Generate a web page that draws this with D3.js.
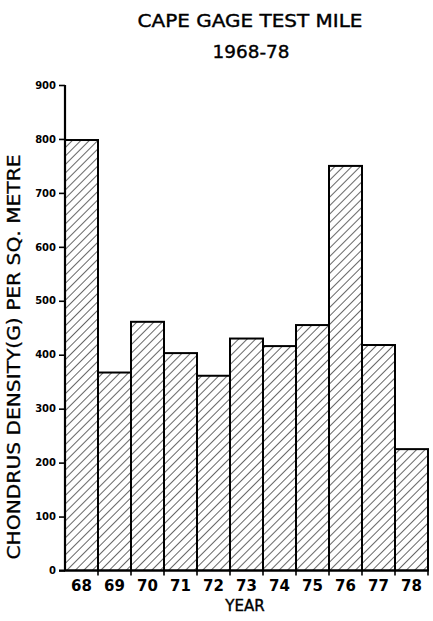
<!DOCTYPE html>
<html>
<head>
<meta charset="utf-8">
<script src="https://cdnjs.cloudflare.com/ajax/libs/d3/7.8.5/d3.min.js"></script>
<style>
  body { margin: 0; background: #fff; }
  text { font-family: "DejaVu Sans", "Liberation Sans", sans-serif; fill: #000; }
</style>
</head>
<body>
<div id="chart"></div>
<script>
// values
var years = ["68", "69", "70", "71", "72", "73", "74", "75", "76", "77", "78"];
var density = [798, 367, 461, 403, 361, 430, 416, 455, 750, 418, 225];
var yTicks = [0, 100, 200, 300, 400, 500, 600, 700, 800, 900];

var width = 433, height = 621;

var svg = d3.select("#chart").append("svg")
    .attr("width", width)
    .attr("height", height);

// diagonal hatch like the plotter fill
var defs = svg.append("defs");
defs.append("pattern")
    .attr("id", "hatch")
    .attr("patternUnits", "userSpaceOnUse")
    .attr("width", 6)
    .attr("height", 6)
    .attr("patternTransform", "rotate(45)")
    .append("line")
    .attr("x1", 0).attr("y1", 0)
    .attr("x2", 0).attr("y2", 6)
    .attr("stroke", "#000")
    .attr("stroke-width", 1.2);

var x = d3.scaleBand()
    .domain(years)
    .range([65, 428])
    .padding(0);

var y = d3.scaleLinear()
    .domain([0, 900])
    .range([570.5, 85]);

// bars
svg.append("g")
    .selectAll("rect")
    .data(years)
    .enter().append("rect")
    .attr("x", function(d) { return x(d); })
    .attr("y", function(d, i) { return y(density[i]); })
    .attr("width", x.bandwidth())
    .attr("height", function(d, i) { return y(0) - y(density[i]); })
    .attr("fill", "url(#hatch)")
    .attr("stroke", "#000")
    .attr("stroke-width", 2);

// y axis
var yAxis = d3.axisLeft(y)
    .tickValues(yTicks)
    .tickSize(6)
    .tickPadding(3)
    .tickFormat(d3.format("d"));

var gy = svg.append("g")
    .attr("transform", "translate(" + x.range()[0] + ",0)")
    .call(yAxis);
gy.select(".domain").attr("stroke-width", 2.2).attr("d", "M0," + y(900) + "V" + y(0));
gy.selectAll(".tick line").attr("stroke-width", 1.6);
gy.selectAll(".tick text")
    .style("font-size", "10px")
    .style("font-weight", "bold");

// x axis: ticks on the bar boundaries, labels in the middle
var gx = svg.append("g")
    .attr("transform", "translate(0," + y(0) + ")");
gx.append("line")
    .attr("x1", x.range()[0] - 6)
    .attr("x2", x.range()[1])
    .attr("stroke", "#000")
    .attr("stroke-width", 2);
gx.selectAll(".xtick")
    .data(years.slice(1).concat(["end"]))
    .enter().append("line")
    .attr("class", "xtick")
    .attr("x1", function(d, i) { return x.range()[0] + (i + 1) * x.bandwidth(); })
    .attr("x2", function(d, i) { return x.range()[0] + (i + 1) * x.bandwidth(); })
    .attr("y1", -5)
    .attr("y2", 5)
    .attr("stroke", "#000")
    .attr("stroke-width", 1.6);
gx.selectAll(".xlabel")
    .data(years)
    .enter().append("text")
    .attr("class", "xlabel")
    .attr("x", function(d) { return x(d) + x.bandwidth() / 2; })
    .attr("y", 20)
    .attr("text-anchor", "middle")
    .style("font-size", "15px")
    .style("font-weight", "bold")
    .text(function(d) { return d; });

// titles
svg.append("text")
    .attr("x", 250)
    .attr("y", 27)
    .attr("text-anchor", "middle")
    .attr("textLength", 225)
    .attr("lengthAdjust", "spacingAndGlyphs")
    .style("font-size", "18px")
    .style("stroke", "#000")
    .style("stroke-width", 0.4)
    .text("CAPE GAGE TEST MILE");

svg.append("text")
    .attr("x", 251)
    .attr("y", 58)
    .attr("text-anchor", "middle")
    .attr("textLength", 77)
    .attr("lengthAdjust", "spacingAndGlyphs")
    .style("font-size", "18px")
    .style("stroke", "#000")
    .style("stroke-width", 0.4)
    .text("1968-78");

svg.append("text")
    .attr("x", 245)
    .attr("y", 611)
    .attr("text-anchor", "middle")
    .style("font-size", "15px")
    .style("stroke", "#000")
    .style("stroke-width", 0.4)
    .text("YEAR");

svg.append("text")
    .attr("transform", "translate(20,357) rotate(-90)")
    .attr("text-anchor", "middle")
    .attr("textLength", 405)
    .attr("lengthAdjust", "spacingAndGlyphs")
    .style("font-size", "18px")
    .style("stroke", "#000")
    .style("stroke-width", 0.3)
    .text("CHONDRUS DENSITY(G) PER SQ. METRE");
</script>
</body>
</html>
